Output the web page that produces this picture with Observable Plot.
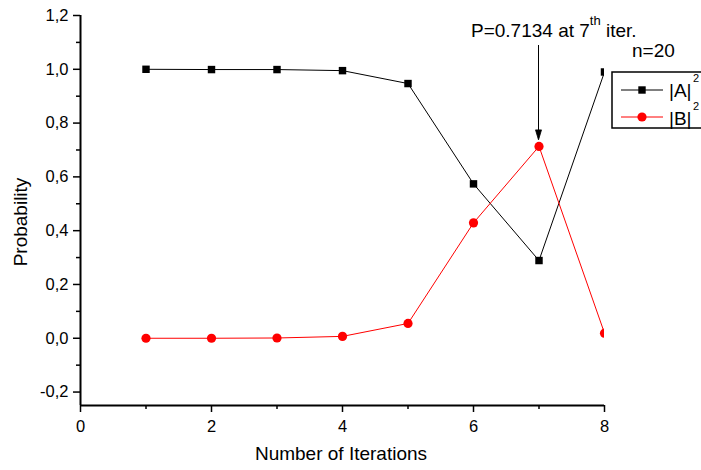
<!DOCTYPE html>
<html>
<head>
<meta charset="utf-8">
<script src="https://cdn.jsdelivr.net/npm/d3@7"></script>
<script src="https://cdn.jsdelivr.net/npm/@observablehq/plot@0.6"></script>
<style>
  html, body { margin: 0; padding: 0; background: white; }
  svg { display: block; }
</style>
</head>
<body>
<div id="chart"></div>
<script>
const iterations = [1, 2, 3, 4, 5, 6, 7, 8];
const probA = [1.0, 0.999, 0.999, 0.995, 0.947, 0.574, 0.289, 0.99];
const probB = [0.0, 0.0, 0.001, 0.007, 0.055, 0.429, 0.7134, 0.019];
const seriesNames = ["|A|", "|B|"];
const seriesColors = ["#000000", "#ff0000"];
const yMajorTicks = [-0.2, 0, 0.2, 0.4, 0.6, 0.8, 1.0, 1.2];
const yMinorTicks = [-0.1, 0.1, 0.3, 0.5, 0.7, 0.9, 1.1];
const xMajorTicks = [0, 2, 4, 6, 8];
const xMinorTicks = [1, 3, 5, 7];
const peakIter = 7;
const peakValue = 0.7134;
const nLabel = "n=20";

const dataA = iterations.map((x, i) => ({x, y: probA[i]}));
const dataB = iterations.map((x, i) => ({x, y: probB[i]}));
const fmt = d => d.toFixed(1).replace(".", ",").replace("-0,0", "0,0");
const FONT = "'Liberation Sans', Arial, Helvetica, sans-serif";
const TICK_FS = 16.5;

const plot = Plot.plot({
  width: 701,
  height: 470,
  marginLeft: 80,
  marginRight: 97,
  marginTop: 15,
  marginBottom: 65,
  style: {fontFamily: FONT, fontSize: TICK_FS + "px", background: "white", color: "black"},
  x: {domain: [0, 8]},
  y: {domain: [-0.25, 1.2]},
  marks: [
    Plot.axisY({ticks: yMajorTicks, tickFormat: fmt, tickSize: 7, tickPadding: 5, fontSize: TICK_FS, label: null, strokeWidth: 1.5}),
    Plot.axisY({ticks: yMinorTicks, tickSize: 4, text: null, label: null, strokeWidth: 1.5}),
    Plot.axisX({ticks: xMajorTicks, tickFormat: d => String(d), tickSize: 7, tickPadding: 8, fontSize: TICK_FS, label: null, strokeWidth: 1.5}),
    Plot.axisX({ticks: xMinorTicks, tickSize: 4, text: null, label: null, strokeWidth: 1.5}),
    Plot.ruleX([0], {strokeWidth: 2}),
    Plot.ruleY([-0.25], {strokeWidth: 2}),
    Plot.line(dataA, {x: "x", y: "y", stroke: seriesColors[0], strokeWidth: 1, clip: true}),
    Plot.line(dataB, {x: "x", y: "y", stroke: seriesColors[1], strokeWidth: 1, clip: true}),
    Plot.dot(dataA, {x: "x", y: "y", symbol: "square", r: 4.2, fill: seriesColors[0], stroke: "none", clip: true}),
    Plot.dot(dataB, {x: "x", y: "y", symbol: "circle", r: 4.6, fill: seriesColors[1], stroke: "none", clip: true})
  ]
});

const svg = d3.select(plot);
svg.selectAll('g[aria-label$="tick label"]').attr("font-size", TICK_FS).style("font-size", TICK_FS + "px").attr("fill", "black");
const xs = plot.scale("x").apply;
const ys = plot.scale("y").apply;

const addText = (x, y, size, anchor) => svg.append("text")
  .attr("x", x).attr("y", y)
  .attr("text-anchor", anchor)
  .attr("font-family", FONT).attr("font-size", size).attr("fill", "black")
  .style("font-size", size + "px");

// Axis titles
svg.append("text")
  .attr("transform", `translate(27,222) rotate(-90)`)
  .attr("text-anchor", "middle")
  .attr("font-family", FONT).attr("font-size", 19).style("font-size", "19px").attr("fill", "black")
  .text("Probability");
addText(341, 460, 19, "middle").text("Number of Iterations");

// Annotation
const ax = xs(peakIter);
const ann = addText(471, 37, 19, "start");
ann.append("tspan").text(`P=${peakValue} at ${peakIter}`);
ann.append("tspan").style("font-size", "13px").attr("dy", -12).text("th");
ann.append("tspan").style("font-size", "19px").attr("dy", 12).text(" iter.");

const tipY = ys(peakValue) - 6;
svg.append("line")
  .attr("x1", ax).attr("x2", ax).attr("y1", 45).attr("y2", tipY - 8)
  .attr("stroke", "black").attr("stroke-width", 1);
svg.append("path")
  .attr("d", `M${ax - 3},${tipY - 10} L${ax},${tipY} L${ax + 3},${tipY - 10} Z`)
  .attr("fill", "black").attr("stroke", "black").attr("stroke-width", 0.8);

// n label
addText(632, 57, 19, "start").text(nLabel);

// Legend
svg.append("rect")
  .attr("x", 612).attr("y", 72).attr("width", 120).attr("height", 56)
  .attr("fill", "white").attr("stroke", "black").attr("stroke-width", 1.5);
const legendRows = [
  {name: seriesNames[0], color: seriesColors[0], sym: "square", ly: 90, by: 97},
  {name: seriesNames[1], color: seriesColors[1], sym: "circle", ly: 117, by: 125}
];
legendRows.forEach(r => {
  svg.append("line").attr("x1", 621).attr("x2", 663).attr("y1", r.ly).attr("y2", r.ly)
    .attr("stroke", r.color).attr("stroke-width", 1);
  if (r.sym === "square") {
    svg.append("rect").attr("x", 642 - 3.7).attr("y", r.ly - 3.7).attr("width", 7.4).attr("height", 7.4).attr("fill", r.color);
  } else {
    svg.append("circle").attr("cx", 642).attr("cy", r.ly).attr("r", 4.6).attr("fill", r.color);
  }
  const t = addText(669, r.by, 19, "start");
  t.append("tspan").text(r.name);
  t.append("tspan").attr("dx", 1.5).attr("dy", -15).style("font-size", "11px").text("2");
});

document.getElementById("chart").appendChild(plot);
</script>
</body>
</html>
